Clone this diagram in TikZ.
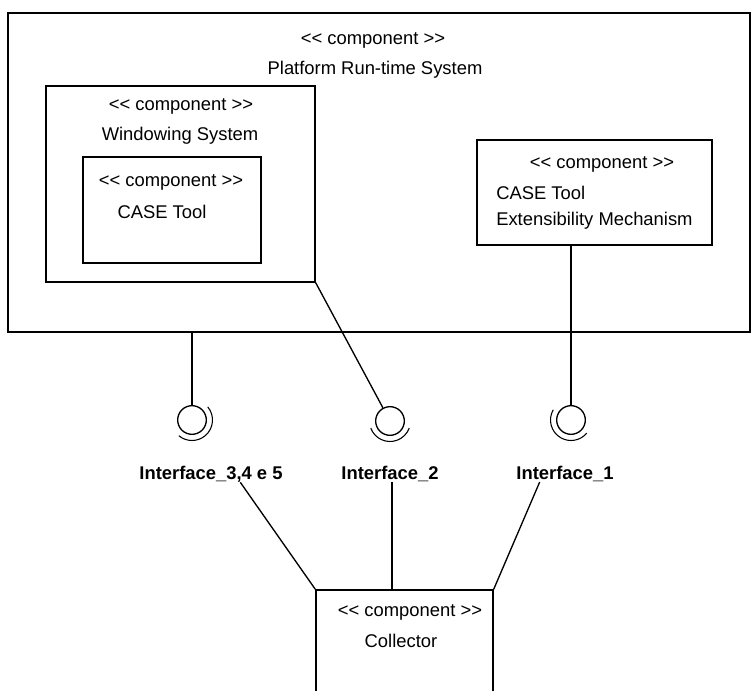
\documentclass[tikz,border=0pt]{standalone}
\usepackage{fontspec}
\setmainfont{Liberation Sans}
\usetikzlibrary{fit,calc}
\newcommand{\compst}{<\kern0pt< component >\kern0pt>}
\tikzset{compbox/.style={draw,line width=1pt,inner sep=0pt},
	comptext/.style={inner sep=0pt,font=\fontsize{13.8}{16}\selectfont},
	ifnode/.style={shape=circle,draw,line width=1pt,minimum size=21.5pt,inner sep=0pt},
	iflabel/.style={inner sep=0pt,font=\fontsize{13.8}{16}\selectfont\bfseries},
	conn/.style={line width=1pt}}

\begin{document}
\begin{tikzpicture}[x=0.75pt,y=-0.75pt]
	\useasboundingbox (0,0) rectangle (752,691);
	\clip (0,0) rectangle (752,691);
	%
	\node[compbox,fit={(8,13) (750,332)}] (prts) {};
	\node[comptext] (prtsst) at (373,40) {\compst};
	\node[comptext] (prtsnm) at (375,70) {Platform Run-time System};
	%
	\node[compbox,fit={(46,86) (315,282)}] (win) {};
	\node[comptext] (winst) at (181,106) {\compst};
	\node[comptext] (winnm) at (180,136) {Windowing System};
	%
	\node[compbox,fit={(83,157) (261,263)}] (case) {};
	\node[comptext] (casest) at (171,182) {\compst};
	\node[comptext] (casenm) at (162,212) {CASE Tool};
	%
	\node[compbox,fit={(477,140) (712,245)}] (ext) {};
	\node[comptext] (extst) at (602,164) {\compst};
	\node[comptext,anchor=west] (extnm1) at (496,193) {CASE Tool};
	\node[comptext,anchor=west] (extnm2) at (496,221) {Extensibility Mechanism};
	%
	\node[compbox,fit={(316,590) (493,720)}] (col) {};
	\node[comptext] (colst) at (410,612) {\compst};
	\node[comptext] (colnm) at (401,641) {Collector};
	%
	\node[ifnode] (if3) at (192,420) {};
	\node[ifnode] (if2) at (390,421) {};
	\node[ifnode] (if1) at (571,420) {};
	\draw[line width=0.8pt] ([shift={(-40:20.5)}]if3.center) arc[start angle=-40,end angle=130,radius=20.5];
	\draw[line width=0.8pt] ([shift={(160:20.5)}]if2.center) arc[start angle=160,end angle=20,radius=20.5];
	\draw[line width=0.8pt] ([shift={(210:20.5)}]if1.center) arc[start angle=210,end angle=40,radius=20.5];
	%
	\node[iflabel] (lbl3) at (211,474) {Interface\_3,4 e 5};
	\node[iflabel] (lbl2) at (390,474) {Interface\_2};
	\node[iflabel] (lbl1) at (565,474) {Interface\_1};
	%
	\draw[conn] (prts.south -| if3.north) -- (if3.north);
	\draw[conn] (win.south east) -- (if2);
	\draw[conn] (ext.south -| if1.north) -- (if1.north);
	\draw[conn] ([xshift=22pt]lbl3.south) -- (col.north west);
	\draw[conn] ([xshift=1.5pt]lbl2.south) -- ([xshift=1.5pt]lbl2.south |- col.north);
	\draw[conn] ([xshift=-19pt]lbl1.south) -- (col.north east);
\end{tikzpicture}
\end{document}
